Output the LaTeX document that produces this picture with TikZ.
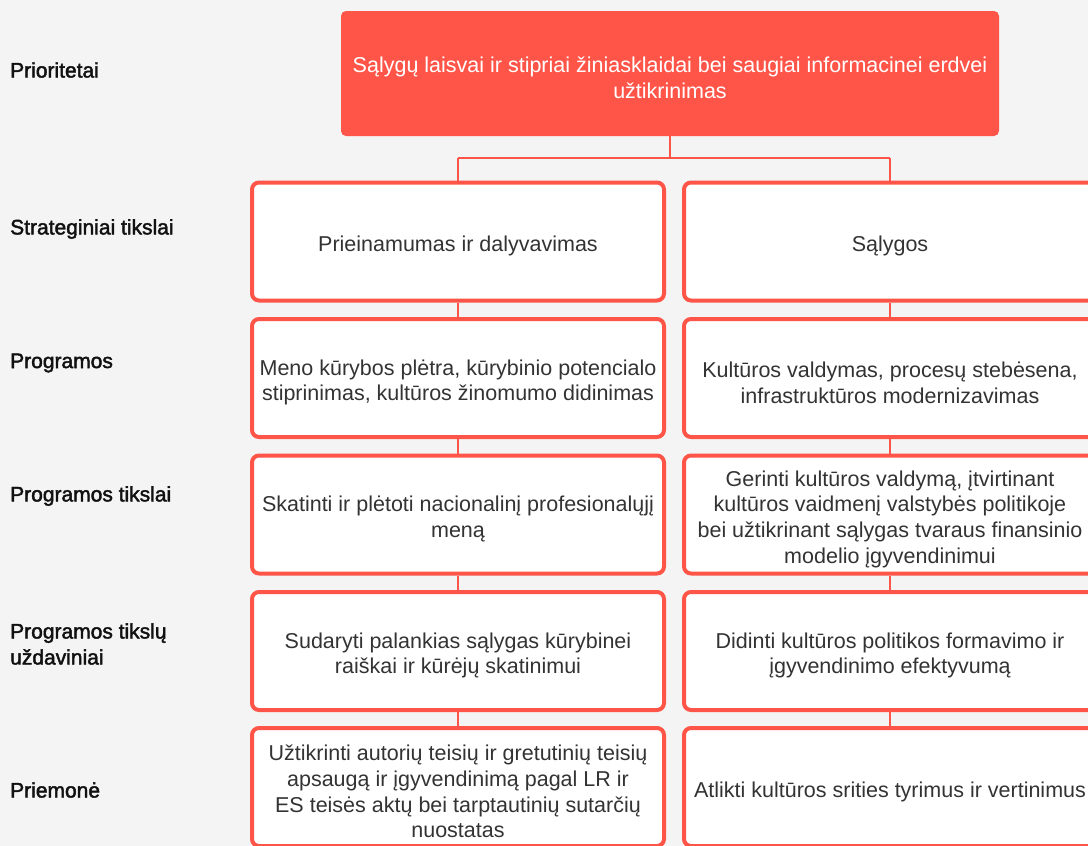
\documentclass[tikz,border=0pt]{standalone}
\usepackage{fontspec}
\setmainfont{Liberation Sans}
\newfontfamily\labfont{Liberation Sans}[FakeBold=2]
\definecolor{coral}{HTML}{FF5549}
\definecolor{bg}{HTML}{F4F4F4}
\definecolor{txt}{HTML}{333333}
\definecolor{lab}{HTML}{111111}
\begin{document}
\begin{tikzpicture}[x=1pt,y=-1pt,
  box/.style={draw=coral, line width=4pt, fill=white, rounded corners=7pt,
    minimum width=412pt, minimum height=118pt, inner sep=0pt},
  btxt/.style={align=center, text=txt, yshift=-4.5pt,
    font=\fontsize{21.5}{25.7}\selectfont, inner sep=0pt},
  topbox/.style={fill=coral, rounded corners=5pt, minimum width=658pt,
    minimum height=125pt, inner sep=0pt},
  ttxt/.style={align=center, text=white, yshift=-4pt,
    font=\fontsize{21.5}{25.7}\selectfont, inner sep=0pt},
  lbl/.style={anchor=west, align=left, text=lab,
    font=\labfont\fontsize{21}{26}\selectfont, inner sep=0pt},
  conn/.style={draw=coral, line width=2.5pt}]
\useasboundingbox (0,0) rectangle (1088,846);
\clip (0,0) rectangle (1088,846);
\fill[bg] (0,0) rectangle (1088,846);

% row labels
\node[lbl] (t0) at (10,70) {Prioritetai};
\node[lbl] (t1) at (10,229) {Strateginiai tikslai};
\node[lbl] (t2) at (10,363) {Programos};
\node[lbl] (t3) at (10,496) {Programos tikslai};
\node[lbl] (t4) at (10,644) {Programos tikslų\\uždaviniai};
\node[lbl] (t5) at (10,790) {Priemonė};

% top
\node[topbox] (top) at (670,73.5) {};
\node[ttxt] (topt) at (top.center) {Sąlygų laisvai ir stipriai žiniasklaidai bei saugiai informacinei erdvei\\užtikrinimas};

% connectors
\coordinate (j) at (670,158);
\coordinate (jl) at (458,158);
\coordinate (jr) at (890,158);
\draw[conn] (top.south) -- (j);
\draw[conn] (jl) -- (jr);

% boxes
\node[box] (L1) at (458,241.5) {};
\node[box] (R1) at (890,241.5) {};
\node[box] (L2) at (458,378) {};
\node[box] (R2) at (890,378) {};
\node[box] (L3) at (458,514.5) {};
\node[box] (R3) at (890,514.5) {};
\node[box] (L4) at (458,651) {};
\node[box] (R4) at (890,651) {};
\node[box] (L5) at (458,787) {};
\node[box] (R5) at (890,787) {};

\node[btxt] (L1t) at (L1.center) {Prieinamumas ir dalyvavimas};
\node[btxt] (R1t) at (R1.center) {Sąlygos};
\node[btxt] (L2t) at (L2.center) {Meno kūrybos plėtra, kūrybinio potencialo\\stiprinimas, kultūros žinomumo didinimas};
\node[btxt] (R2t) at (R2.center) {Kultūros valdymas, procesų stebėsena,\\infrastruktūros modernizavimas};
\node[btxt] (L3t) at (L3.center) {Skatinti ir plėtoti nacionalinį profesionalųjį\\meną};
\node[btxt] (R3t) at (R3.center) {Gerinti kultūros valdymą, įtvirtinant\\kultūros vaidmenį valstybės politikoje\\bei užtikrinant sąlygas tvaraus finansinio\\modelio įgyvendinimui};
\node[btxt] (L4t) at (L4.center) {Sudaryti palankias sąlygas kūrybinei\\raiškai ir kūrėjų skatinimui};
\node[btxt] (R4t) at (R4.center) {Didinti kultūros politikos formavimo ir\\įgyvendinimo efektyvumą};
\node[btxt] (L5t) at (L5.center) {Užtikrinti autorių teisių ir gretutinių teisių\\apsaugą ir įgyvendinimą pagal LR ir\\ES teisės aktų bei tarptautinių sutarčių\\nuostatas};
\node[btxt] (R5t) at (R5.center) {Atlikti kultūros srities tyrimus ir vertinimus};

\draw[conn] (jl) -- (L1.north);
\draw[conn] (jr) -- (R1.north);
\draw[conn] (L1.south) -- (L2.north);
\draw[conn] (R1.south) -- (R2.north);
\draw[conn] (L2.south) -- (L3.north);
\draw[conn] (R2.south) -- (R3.north);
\draw[conn] (L3.south) -- (L4.north);
\draw[conn] (R3.south) -- (R4.north);
\draw[conn] (L4.south) -- (L5.north);
\draw[conn] (R4.south) -- (R5.north);
\end{tikzpicture}
\end{document}
